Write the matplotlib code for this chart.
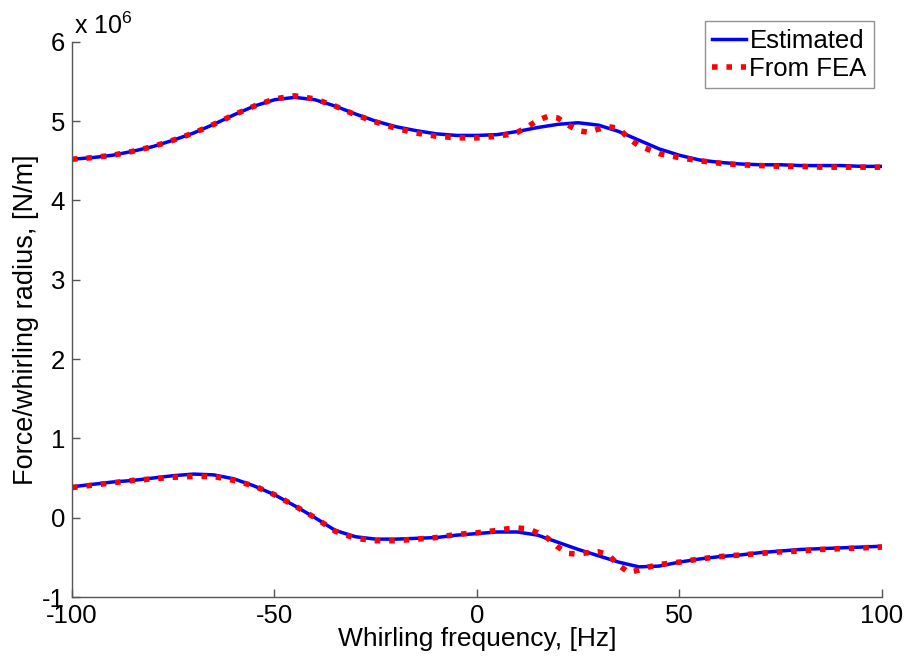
import matplotlib
matplotlib.use("Agg")
import matplotlib.pyplot as plt
import numpy as np

plt.rcParams["font.family"] = ["Liberation Sans", "DejaVu Sans"]

# data (values in units of 1e6 N/m)
f_est = [-100, -95, -90, -85, -80, -75, -70, -65, -60, -55, -50, -45, -40, -35, -30,
         -25, -20, -15, -10, -5, 0, 5, 10, 15, 20, 25, 30, 35, 40, 45, 50, 55, 60,
         65, 70, 75, 80, 85, 90, 95, 100]
upper_est = [4.52, 4.54, 4.57, 4.62, 4.68, 4.76, 4.85, 4.96, 5.08, 5.19, 5.27, 5.30,
             5.27, 5.19, 5.09, 5.00, 4.93, 4.88, 4.84, 4.82, 4.82, 4.83, 4.87, 4.92,
             4.96, 4.98, 4.95, 4.87, 4.76, 4.65, 4.57, 4.51, 4.48, 4.46, 4.45, 4.45,
             4.44, 4.44, 4.44, 4.43, 4.43]
lower_est = [0.39, 0.42, 0.45, 0.47, 0.50, 0.53, 0.55, 0.54, 0.49, 0.40, 0.29, 0.15,
             0.00, -0.16, -0.24, -0.27, -0.27, -0.26, -0.25, -0.22, -0.20, -0.18,
             -0.18, -0.22, -0.31, -0.40, -0.48, -0.56, -0.62, -0.61, -0.56, -0.52,
             -0.49, -0.47, -0.44, -0.42, -0.40, -0.39, -0.38, -0.37, -0.36]

f_fea = [-100, -95, -90, -85, -80, -75, -70, -65, -60, -55, -50, -45, -40, -35, -30,
         -25, -20, -15, -10, -5, 0, 5, 7.5, 10, 12.5, 15, 17.5, 20, 22.5, 25, 27.5,
         30, 32.5, 35, 37.5, 40, 42.5, 45, 50, 55, 60, 65, 70, 75, 80, 85, 90, 95, 100]
upper_fea = [4.52, 4.54, 4.57, 4.62, 4.68, 4.76, 4.85, 4.96, 5.08, 5.19, 5.28, 5.32,
             5.28, 5.19, 5.08, 4.99, 4.91, 4.85, 4.81, 4.79, 4.79, 4.81, 4.83, 4.86,
             4.93, 5.01, 5.06, 5.04, 4.95, 4.88, 4.86, 4.90, 4.93, 4.91, 4.78, 4.69,
             4.64, 4.59, 4.54, 4.50, 4.47, 4.45, 4.44, 4.43, 4.43, 4.42, 4.42, 4.42,
             4.42]
lower_fea = [0.38, 0.41, 0.44, 0.47, 0.49, 0.51, 0.52, 0.52, 0.47, 0.40, 0.29, 0.15,
             0.00, -0.17, -0.26, -0.29, -0.29, -0.27, -0.25, -0.21, -0.19, -0.16,
             -0.14, -0.13, -0.14, -0.19, -0.26, -0.37, -0.45, -0.46, -0.44, -0.43,
             -0.47, -0.60, -0.69, -0.66, -0.62, -0.59, -0.56, -0.52, -0.49, -0.47,
             -0.45, -0.43, -0.42, -0.40, -0.39, -0.38, -0.37]

x_ticks = [-100, -50, 0, 50, 100]
y_ticks = [-1, 0, 1, 2, 3, 4, 5, 6]

fig = plt.figure(figsize=(9.09, 6.57), dpi=100)
ax = fig.add_axes([0.0792, 0.0913, 0.891, 0.845])

scale = 1e6
ax.plot(f_est, np.array(upper_est) * scale, color="#0000ff", lw=2.5, label="Estimated")
ax.plot(f_fea, np.array(upper_fea) * scale, color="#ff0000", lw=4, ls=(0, (1, 1.6)),
        dash_capstyle="butt", label="From FEA")
ax.plot(f_est, np.array(lower_est) * scale, color="#0000ff", lw=2.5)
ax.plot(f_fea, np.array(lower_fea) * scale, color="#ff0000", lw=4, ls=(0, (1, 1.6)),
        dash_capstyle="butt")

ax.set_xlim(-100, 100)
ax.set_ylim(-1 * scale, 6 * scale)
ax.set_xticks(x_ticks)
ax.set_xticklabels([str(t) for t in x_ticks])
ax.set_yticks([t * scale for t in y_ticks])
ax.set_yticklabels([str(t) for t in y_ticks])

for s in ["top", "right"]:
    ax.spines[s].set_visible(False)
for s in ["left", "bottom"]:
    ax.spines[s].set_color("#555555")
    ax.spines[s].set_linewidth(1.0)
ax.tick_params(direction="in", length=6, width=1, color="#555555",
               labelsize=18.5, pad=5)

ax.set_xlabel("Whirling frequency, [Hz]", fontsize=19, labelpad=-1)
ax.set_ylabel("Force/whirling radius, [N/m]", fontsize=19.5, labelpad=2)
ax.text(0.003, 1.005, r"x 10$^{\mathregular{6}}$", transform=ax.transAxes,
        fontsize=18, ha="left", va="bottom")

leg = ax.legend(loc="upper right", bbox_to_anchor=(0.962, 0.968),
                bbox_transform=fig.transFigure, fontsize=18.5, frameon=True,
                fancybox=False, handlelength=1.3, handletextpad=0.15,
                borderpad=0.3, labelspacing=0.15, borderaxespad=0)
leg.get_frame().set_edgecolor("#777777")
leg.get_frame().set_linewidth(1.0)

fig.savefig("out.png", dpi=100)
